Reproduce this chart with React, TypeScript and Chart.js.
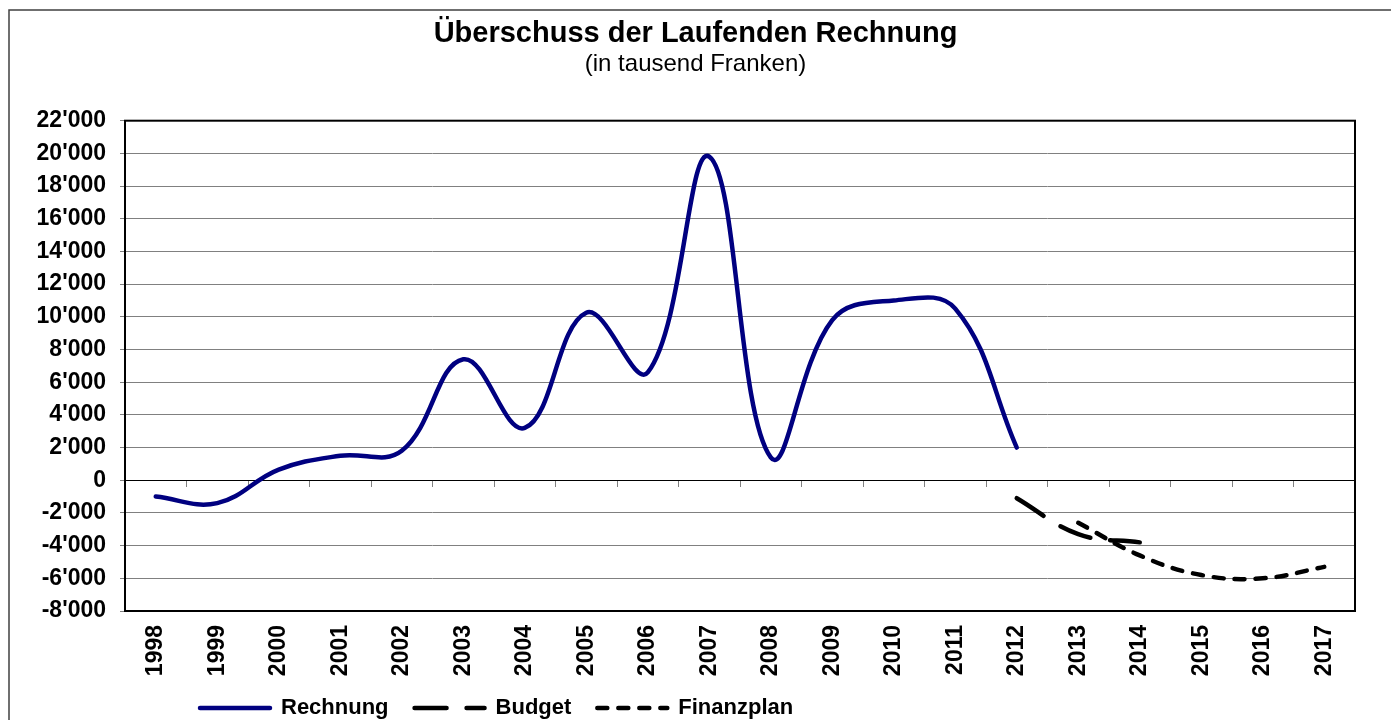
import React, { useEffect, useRef } from "react";
import { Chart, registerables } from "chart.js";

Chart.register(...registerables);

const years = ["1998", "1999", "2000", "2001", "2002", "2003", "2004", "2005", "2006", "2007", "2008", "2009", "2010", "2011", "2012", "2013", "2014", "2015", "2016", "2017"];
const rechnung = [-1000, -1400, 650, 1500, 1800, 7400, 3200, 10250, 6600, 19800, 1400, 9800, 11000, 10500, 2000, null, null, null, null, null];
const budget = [null, null, null, null, null, null, null, null, null, null, null, null, null, null, -1100, -3300, -3800, null, null, null];
const finanzplan = [null, null, null, null, null, null, null, null, null, null, null, null, null, null, null, -2600, -4600, -5800, -6000, -5300];
const seriesNames = ["Rechnung", "Budget", "Finanzplan"];
const yMin = -8000;
const yMax = 22000;
const yStep = 2000;
const titleText = "Überschuss der Laufenden Rechnung";
const subtitleText = "(in tausend Franken)";

const FONT = "'Liberation Sans', Arial, Helvetica, sans-serif";

function fmt(v: number): string {
  const s = Math.abs(v).toString().replace(/\B(?=(\d{3})+(?!\d))/g, "'");
  return (v < 0 ? "-" : "") + s;
}

const LEGEND_PAD = 26;
const LEGEND_FONT = 22;
const LEGEND_H = 36;
const PLOT_BOTTOM = 611;

const framePlugin = {
  id: "framePlugin",
  beforeDraw(chart: any) {
    const ctx = chart.ctx;
    ctx.save();
    ctx.fillStyle = "#ffffff";
    ctx.fillRect(0, 0, chart.width, chart.height);
    ctx.strokeStyle = "#404040";
    ctx.lineWidth = 1.5;
    ctx.beginPath();
    ctx.moveTo(9, chart.height + 5);
    ctx.lineTo(9, 10);
    ctx.lineTo(chart.width + 5, 10);
    ctx.stroke();
    ctx.restore();
  },
  afterDatasetsDraw(chart: any) {
    const { ctx, chartArea } = chart;
    ctx.save();
    ctx.strokeStyle = "#000000";
    ctx.lineWidth = 2;
    ctx.strokeRect(chartArea.left, chartArea.top, chartArea.right - chartArea.left, chartArea.bottom - chartArea.top);
    ctx.restore();
  },
};

const legendShiftPlugin = {
  id: "legendShiftPlugin",
  beforeLayout(chart: any) {
    const lg = chart.legend;
    if (lg && !lg.__patched) {
      const orig = lg.fit;
      lg.fit = function (this: any) {
        orig.call(this);
        this.height = LEGEND_H;
      };
      lg.__patched = true;
    }
  },
  afterLayout(chart: any) {
    const lg = chart.legend;
    if (!lg) return;
    const ca = chart.chartArea;
    const targetLeft = ca.left + 75 - LEGEND_PAD;
    const targetTop = 708 - LEGEND_PAD - LEGEND_FONT / 2;
    const dx = targetLeft - lg.left;
    lg.left += dx;
    lg.right += dx;
    lg.top = targetTop;
    lg.bottom = chart.height;
    lg.height = lg.bottom - lg.top;
  },
};

export default function App() {
  const ref = useRef<HTMLCanvasElement | null>(null);

  useEffect(() => {
    if (!ref.current) return;
    Chart.defaults.font.family = FONT;
    const baseGen = (Chart as any).defaults.plugins.legend.labels.generateLabels;
    const chart = new Chart(ref.current, {
      type: "line",
      data: {
        labels: years,
        datasets: [
          {
            label: seriesNames[0],
            data: rechnung,
            borderColor: "#000080",
            backgroundColor: "#000080",
            borderWidth: 4.5,
            tension: 0.4,
            pointRadius: 0,
            pointHoverRadius: 0,
            pointStyle: "line",
            borderCapStyle: "round",
            borderJoinStyle: "round",
            fill: false,
            xAxisID: "x",
            yAxisID: "y",
          },
          {
            label: seriesNames[1],
            data: budget,
            borderColor: "#000000",
            backgroundColor: "#000000",
            borderWidth: 4.5,
            borderDash: [32, 20],
            tension: 0.4,
            pointRadius: 0,
            pointHoverRadius: 0,
            pointStyle: "line",
            borderCapStyle: "round",
            fill: false,
            xAxisID: "x",
            yAxisID: "y",
          },
          {
            label: seriesNames[2],
            data: finanzplan,
            borderColor: "#000000",
            backgroundColor: "#000000",
            borderWidth: 4.5,
            borderDash: [10, 11],
            tension: 0.4,
            pointRadius: 0,
            pointHoverRadius: 0,
            pointStyle: "line",
            borderCapStyle: "round",
            fill: false,
            xAxisID: "x",
            yAxisID: "y",
          },
        ],
      },
      options: {
        responsive: false,
        animation: false,
        events: [],
        layout: { padding: { top: 18, left: 0, right: 0, bottom: 0 } },
        scales: {
          x: {
            type: "category",
            position: "bottom",
            offset: true,
            grid: { display: false, drawTicks: false },
            border: { display: false },
            ticks: {
              autoSkip: false,
              minRotation: 90,
              maxRotation: 90,
              padding: 14,
              color: "#000",
              font: { size: 23, weight: "bold" },
            },
            afterFit: (s: any) => {
              s.height = 720 - LEGEND_H - PLOT_BOTTOM;
            },
          },
          x0: {
            type: "category",
            axis: "x",
            labels: years,
            position: { y: 0 },
            offset: true,
            grid: {
              display: true,
              drawOnChartArea: false,
              drawTicks: true,
              tickLength: 6,
              offset: true,
              color: "#808080",
            },
            border: { display: true, color: "#000", width: 1 },
            ticks: { display: false },
          },
          y: {
            type: "linear",
            position: "left",
            min: yMin,
            max: yMax,
            grid: {
              color: (c: any) => (c.tick && c.tick.value === 0 ? "#000000" : "#808080"),
              lineWidth: 1,
              tickLength: 5,
              tickColor: "#808080",
            },
            border: { display: false },
            ticks: {
              stepSize: yStep,
              autoSkip: false,
              padding: 14,
              color: "#000",
              font: { size: 23, weight: "bold" },
              callback: (v: any) => fmt(Number(v)),
            },
            afterFit: (s: any) => {
              s.width = 125;
            },
          },
          yR: {
            type: "linear",
            position: "right",
            display: true,
            grid: { display: false, drawTicks: false },
            border: { display: false },
            ticks: { display: false },
            afterFit: (s: any) => {
              s.width = 36;
            },
          },
        },
        plugins: {
          title: {
            display: true,
            text: titleText,
            color: "#000",
            font: { size: 29, weight: "bold", lineHeight: 1.1 },
            padding: 0,
          },
          subtitle: {
            display: true,
            text: subtitleText,
            color: "#000",
            font: { size: 24, weight: "normal", lineHeight: 1.2 },
            padding: { top: 0, bottom: 42 },
          },
          legend: {
            display: true,
            position: "bottom",
            align: "start",
            labels: {
              usePointStyle: true,
              pointStyleWidth: 70,
              padding: LEGEND_PAD,
              color: "#000",
              font: { size: LEGEND_FONT, weight: "bold" },
              generateLabels: (ch: any) => {
                const items = baseGen(ch);
                items.forEach((it: any) => {
                  const ds = ch.data.datasets[it.datasetIndex];
                  it.lineDash = ds.borderDash || [];
                  it.lineWidth = ds.borderWidth;
                  it.strokeStyle = ds.borderColor;
                  it.fillStyle = ds.borderColor;
                  it.lineCap = "round";
                  it.pointStyle = "line";
                });
                return items;
              },
            },
          },
          tooltip: { enabled: false },
        },
      },
      plugins: [framePlugin, legendShiftPlugin],
    } as any);
    return () => chart.destroy();
  }, []);

  return (
    <div style={{ position: "absolute", left: 0, top: 0, width: 1391, height: 720, background: "#fff" }}>
      <canvas ref={ref} width={1391} height={720} style={{ display: "block" }} />
    </div>
  );
}
